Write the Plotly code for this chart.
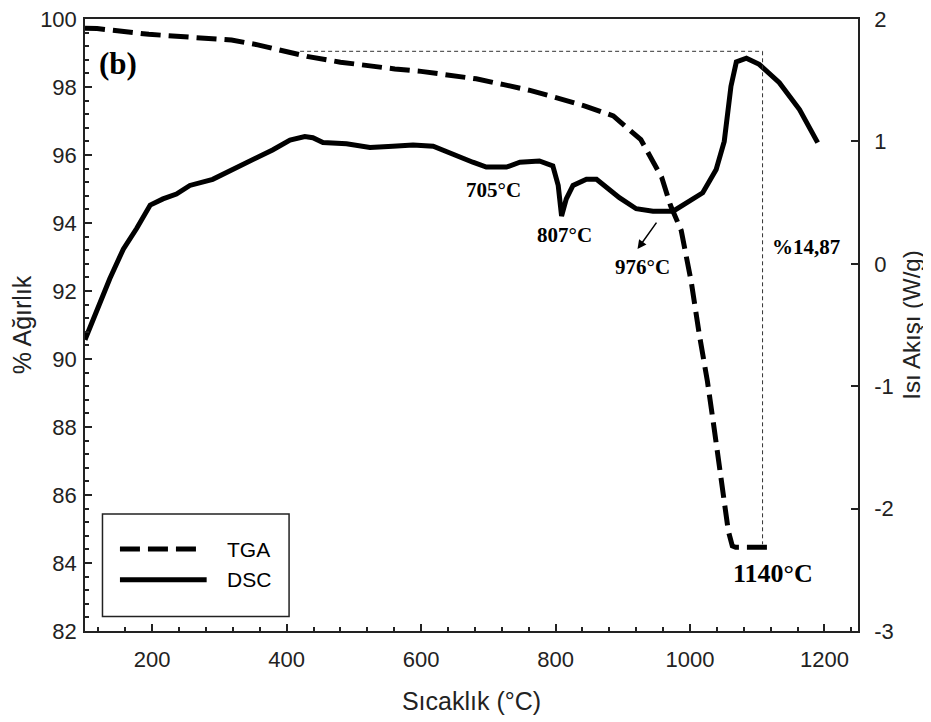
import plotly.graph_objects as go

# ---------------- data ----------------
tga_temp = [100, 118, 195, 238, 275, 318, 357, 399, 430, 480, 519, 561, 600, 641,
            682, 723, 762, 802, 844, 886, 927, 958, 971, 987, 1002, 1014, 1026,
            1036, 1047, 1057, 1063, 1068, 1122]
tga_weight = [99.73, 99.72, 99.55, 99.49, 99.47, 99.38, 99.24, 99.03, 98.90, 98.73,
              98.62, 98.53, 98.46, 98.36, 98.24, 98.07, 97.90, 97.68, 97.44, 97.15,
              96.45, 95.34, 94.52, 93.78, 92.26, 90.71, 89.34, 87.96, 86.41, 84.95,
              84.50, 84.46, 84.46]

dsc_temp = [100, 117, 137, 157, 177, 197, 216, 236, 256, 290, 320, 350, 379, 405,
            427, 439, 454, 489, 524, 558, 588, 618, 648, 677, 697, 727, 747, 776,
            796, 804, 809, 816, 826, 846, 861, 876, 895, 920, 945, 975, 994, 1019,
            1039, 1051, 1061, 1069, 1084, 1103, 1133, 1163, 1190]
dsc_flow = [-0.62, -0.39, -0.12, 0.12, 0.29, 0.48, 0.53, 0.57, 0.64, 0.69, 0.77,
            0.85, 0.93, 1.01, 1.04, 1.03, 0.99, 0.98, 0.95, 0.96, 0.97, 0.96, 0.89,
            0.83, 0.79, 0.79, 0.83, 0.84, 0.80, 0.64, 0.39, 0.53, 0.64, 0.69, 0.69,
            0.62, 0.54, 0.45, 0.43, 0.43, 0.49, 0.58, 0.77, 1.00, 1.45, 1.65, 1.68,
            1.63, 1.48, 1.26, 0.99]

x_ticks = [200, 400, 600, 800, 1000, 1200]
y_ticks = [82, 84, 86, 88, 90, 92, 94, 96, 98, 100]
y2_ticks = [-3, -2, -1, 0, 1, 2]

# mass-loss guide lines (°C, % weight)
guide_temp = [420, 1108]
guide_weight = [99.05, 84.55]

# annotations: (text, temperature, weight, font size)
labels = [("705°C", 708, 94.96, 21),
          ("807°C", 813, 93.64, 21),
          ("976°C", 929, 92.70, 21),
          ("%14,87", 1172, 93.29, 21),
          ("1140°C", 1124, 83.69, 26)]

AX = "#222222"
SANS = "Liberation Sans, Arial, sans-serif"
SERIF = "Liberation Serif, Times New Roman, serif"

fig = go.Figure()
fig.add_trace(go.Scatter(x=tga_temp, y=tga_weight, mode="lines", name="TGA",
                         line=dict(color="black", width=5, dash="20px,8px"),
                         showlegend=False))
fig.add_trace(go.Scatter(x=dsc_temp, y=dsc_flow, mode="lines", name="DSC",
                         yaxis="y2", line=dict(color="black", width=5),
                         showlegend=False))

# guide lines
fig.add_shape(type="line", xref="x", yref="y", x0=guide_temp[0], x1=guide_temp[1],
              y0=guide_weight[0], y1=guide_weight[0],
              line=dict(color="#333", width=1, dash="4px,3px"))
fig.add_shape(type="line", xref="x", yref="y", x0=guide_temp[1], x1=guide_temp[1],
              y0=guide_weight[0], y1=guide_weight[1],
              line=dict(color="#333", width=1, dash="4px,3px"))

# manual legend box
fig.add_shape(type="rect", xref="x", yref="y", x0=126, x1=403.6, y0=82.43, y1=85.44,
              line=dict(color=AX, width=1.5), fillcolor="white")
fig.add_shape(type="line", xref="x", yref="y", x0=152, x1=268, y0=84.41, y1=84.41,
              line=dict(color="black", width=5, dash="20px,8px"))
fig.add_shape(type="line", xref="x", yref="y", x0=152, x1=281, y0=83.51, y1=83.51,
              line=dict(color="black", width=5))
fig.add_annotation(x=308, y=84.41, xref="x", yref="y", text="TGA", showarrow=False,
                   xanchor="left", font=dict(family=SANS, size=21, color="black"))
fig.add_annotation(x=308, y=83.51, xref="x", yref="y", text="DSC", showarrow=False,
                   xanchor="left", font=dict(family=SANS, size=21, color="black"))

fig.add_annotation(x=149, y=98.68, xref="x", yref="y", text="<b>(b)</b>",
                   showarrow=False, font=dict(family=SERIF, size=31, color="black"))
for txt, tx, ty, fs in labels:
    fig.add_annotation(x=tx, y=ty, xref="x", yref="y", text="<b>" + txt + "</b>",
                       showarrow=False, font=dict(family=SERIF, size=fs, color="black"))

# arrow to 976 °C
fig.add_annotation(x=922, y=0.12, xref="x", yref="y2", ax=20, ay=-28,
                   text="", showarrow=True, arrowhead=2, arrowsize=1.2,
                   arrowwidth=1.5, arrowcolor="black")

fig.update_layout(
    width=923, height=714,
    margin=dict(l=77, r=73, t=11, b=91),
    paper_bgcolor="white", plot_bgcolor="white",
    xaxis=dict(range=[100, 1250], tickvals=x_ticks, showgrid=False, zeroline=False,
               automargin=False, ticklabelstandoff=8, ticklabeloverflow="allow",
               showline=True, linecolor=AX, linewidth=1.5, mirror=True,
               ticks="inside", ticklen=7, tickcolor=AX, tickwidth=1.5,
               minor=dict(dtick=40, tick0=0, ticks="inside", ticklen=4,
                          tickcolor=AX, showgrid=False),
               tickfont=dict(family=SANS, size=22, color=AX),
               title=dict(text="Sıcaklık (°C)", font=dict(family=SANS, size=25, color=AX),
                          standoff=21)),
    yaxis=dict(range=[82, 100], tickvals=y_ticks, showgrid=False, zeroline=False,
               automargin=False, ticklabelstandoff=2, ticklabeloverflow="allow",
               showline=True, linecolor=AX, linewidth=1.5,
               ticks="inside", ticklen=7, tickcolor=AX, tickwidth=1.5,
               minor=dict(dtick=0.4, tick0=82, ticks="inside", ticklen=4,
                          tickcolor=AX, showgrid=False),
               tickfont=dict(family=SANS, size=22, color=AX),
               title=dict(text="% Ağırlık", font=dict(family=SANS, size=25, color=AX),
                          standoff=2)),
    yaxis2=dict(range=[-3, 2], tickvals=y2_ticks, ticktext=[str(v) for v in y2_ticks],
                overlaying="y", side="right", automargin=False, ticklabelstandoff=10,
                ticklabeloverflow="allow",
                showgrid=False, zeroline=False, showline=True, linecolor=AX,
                linewidth=1.5, ticks="inside", ticklen=7, tickcolor=AX, tickwidth=1.5,
                tickfont=dict(family=SANS, size=22, color=AX),
                title=dict(text="Isı Akışı (W/g)", font=dict(family=SANS, size=24, color=AX),
                           standoff=10)),
)

fig.write_html("out.html")
